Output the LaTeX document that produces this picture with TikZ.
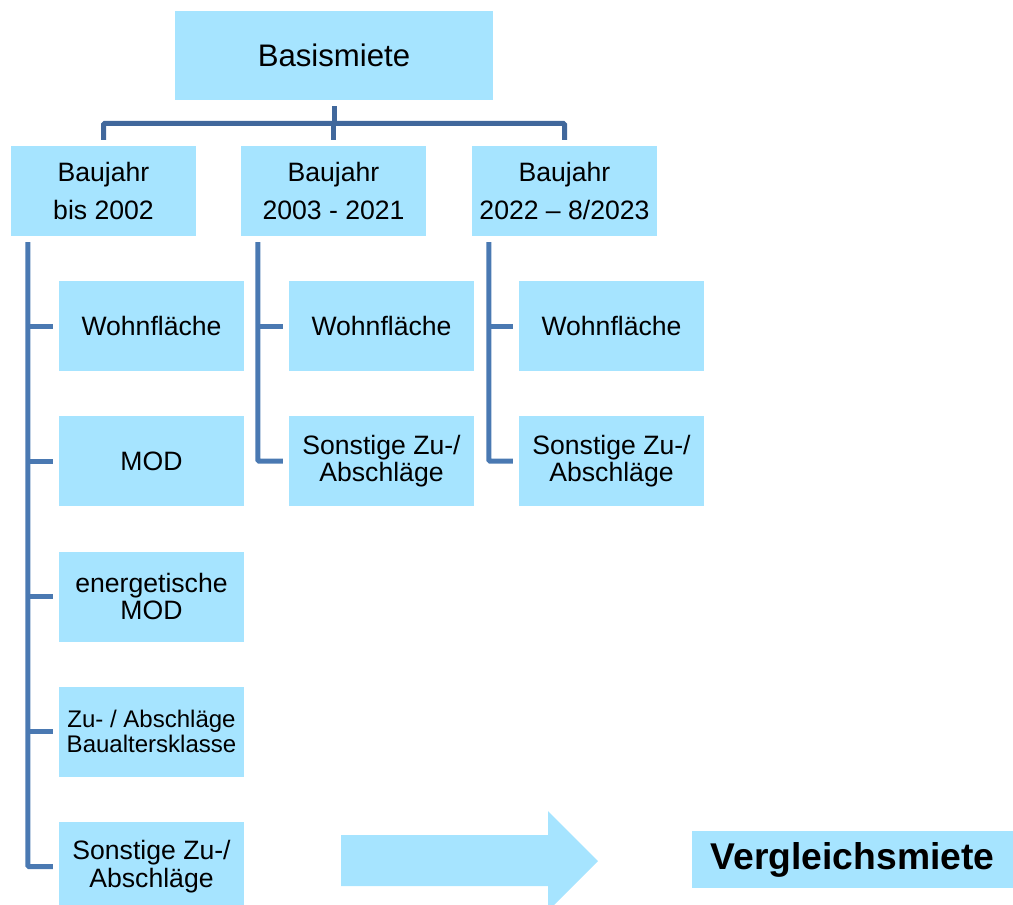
\documentclass[tikz,border=0pt]{standalone}
\usepackage{fontspec}
\setmainfont{Liberation Sans}
\definecolor{boxcyan}{HTML}{A6E4FF}
\definecolor{treeblue}{HTML}{41689C}
\definecolor{sideblue}{HTML}{4A79B2}
\begin{document}
\begin{tikzpicture}[
    x=0.03cm, y=-0.03cm,
    box/.style={fill=boxcyan, inner sep=0pt, align=center, minimum width=5.55cm, minimum height=2.7cm, font=\fontsize{22.7}{23.6}\selectfont},
    year/.style={box, font=\fontsize{22.7}{32}\selectfont},
    tree/.style={line width=0.15cm, draw=treeblue, rounded corners=1pt},
    side/.style={line width=0.15cm, draw=sideblue, rounded corners=1pt}
]
\useasboundingbox (0,0) rectangle (1013,905);

\node[box, minimum width=9.54cm, minimum height=2.67cm, font=\fontsize{26.6}{30}\selectfont] (basis) at (334,55.5) {Basismiete};

\node[year] (bjA) at (103.5,191) {Baujahr\\bis 2002};
\node[year] (bjB) at (333.5,191) {Baujahr\\2003 - 2021};
\node[year] (bjC) at (564.5,191) {Baujahr\\2022 – 8/2023};

\node[box] (wfA)   at (151.5,326)   {Wohnfläche};
\node[box] (modA)  at (151.5,461)   {MOD};
\node[box] (emodA) at (151.5,596.5) {energetische\\MOD};
\node[box, font=\fontsize{20.5}{21.5}\selectfont] (bakA) at (151.5,731.5) {Zu- / Abschläge\\Baualtersklasse};
\node[box] (szA)   at (151.5,866.5) {Sonstige Zu-/\\Abschläge};
\node[box] (wfB)   at (381.5,326)   {Wohnfläche};
\node[box] (szB)   at (381.5,461)   {Sonstige Zu-/\\Abschläge};
\node[box] (wfC)   at (611.5,326)   {Wohnfläche};
\node[box] (szC)   at (611.5,461)   {Sonstige Zu-/\\Abschläge};

\node[box, minimum width=9.63cm, minimum height=1.71cm, font=\bfseries\fontsize{31.8}{33}\selectfont] (vgl) at (852.5,859.5) {Vergleichsmiete};

% block arrow towards the result
\fill[boxcyan] (341,835) -- (548,835) -- (548,811) -- (598,861) -- (548,911) -- (548,886) -- (341,886) -- cycle;

% tree below the top box
\coordinate (bar) at (334,123.5);
\draw[tree] ([yshift=-0.18cm]basis.south) -- (basis.south |- bar);
\draw[tree] ([yshift=0.18cm]bjA.north) |- (bar) -| ([yshift=0.18cm]bjC.north);
\draw[tree] ([yshift=0.18cm]bjB.north) -- (bjB.north |- bar);

% spines with ticks
\foreach \col/\last in {A/szA, B/szB, C/szC} {
    \coordinate (sp\col) at ([xshift=0.51cm, yshift=-0.18cm]bj\col.south west);
    \draw[side] (sp\col) |- ([xshift=-0.18cm]\last.west);
}
\foreach \n/\col in {wfA/A, modA/A, emodA/A, bakA/A, wfB/B, wfC/C}
    \draw[side] ([xshift=-0.18cm]\n.west) -- (\n.west -| sp\col);
\end{tikzpicture}
\end{document}
